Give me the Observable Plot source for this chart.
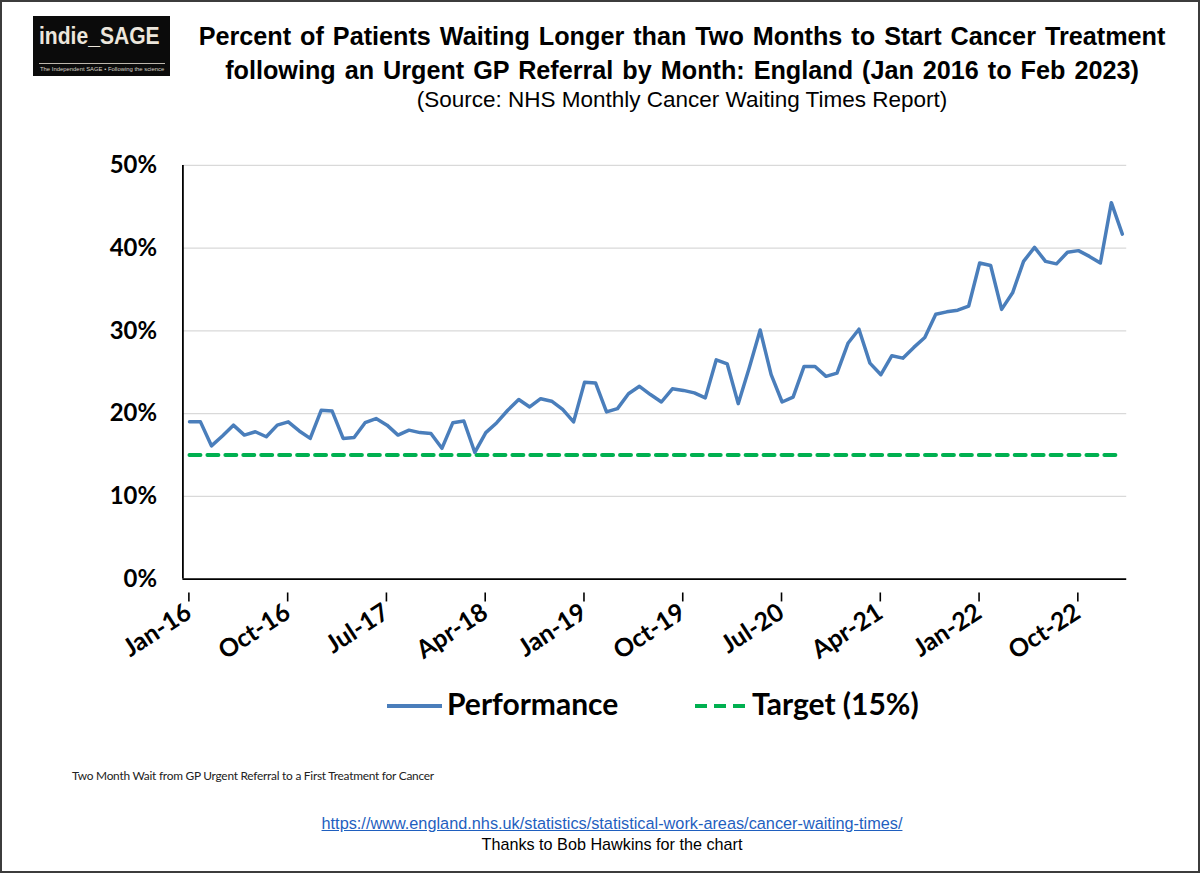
<!DOCTYPE html>
<html>
<head>
<meta charset="utf-8">
<script src="https://cdn.jsdelivr.net/npm/d3@7"></script>
<script src="https://cdn.jsdelivr.net/npm/@observablehq/plot@0.6"></script>
<style>
  html, body { margin: 0; padding: 0; background: #fff; }
  #wrap { position: relative; width: 1200px; height: 873px; box-sizing: border-box; border: 2px solid #3c3c3c; overflow: hidden; font-family: "Liberation Sans", Arial, sans-serif; }
  .abs { position: absolute; }
  #logo { left: 31px; top: 14px; width: 137px; height: 60px; background: #0b0b0b; }
  #logo .big { position: absolute; left: 6px; top: 6px; font-family: "Liberation Sans", Arial, sans-serif; font-weight: bold; font-size: 24.5px; color: #ece6dc; transform: scaleX(0.86); transform-origin: left top; white-space: nowrap; }
  #logo .rule { position: absolute; left: 6px; right: 5px; top: 47px; height: 1px; background: #bdb7ad; }
  #logo .small { position: absolute; left: 7px; top: 50px; font-size: 5.9px; color: #d9d3c9; white-space: nowrap; }
  .title { left: 0; width: 1360px; text-align: center; font-weight: bold; font-size: 25.2px; color: #000; white-space: nowrap; word-spacing: 2px; }
  .sub { left: 0; width: 1360px; text-align: center; font-size: 22.5px; color: #000; white-space: nowrap; }
  #chart { left: 0; top: 140px; }
  .leg { font-family: Lato, sans-serif; font-weight: bold; font-size: 30px; color: #000; white-space: nowrap; line-height: 36px; }
  .note { left: 70px; top: 766px; font-family: Lato, sans-serif; font-size: 11.9px; color: #222; white-space: nowrap; letter-spacing: -0.25px; }
  .url { left: 0; width: 1220px; text-align: center; top: 812px; font-size: 16.3px; color: #1f5fbf; text-decoration: underline; white-space: nowrap; }
  .thanks { left: 0; width: 1220px; text-align: center; top: 833px; font-size: 16.2px; color: #000; white-space: nowrap; }
</style>
</head>
<body>
<div id="wrap">
  <div id="logo" class="abs">
    <div class="big">indie_SAGE</div>
    <div class="rule"></div>
    <div class="small">The Independent SAGE • Following the science</div>
  </div>
  <div class="abs title" style="top:20px">Percent of Patients Waiting Longer than Two Months to Start Cancer Treatment</div>
  <div class="abs title" style="top:54px">following an Urgent GP Referral by Month: England (Jan 2016 to Feb 2023)</div>
  <div class="abs sub" style="top:85px">(Source: NHS Monthly Cancer Waiting Times Report)</div>
  <div id="chart" class="abs"></div>
  <div class="abs" style="left:385px; top:702px; width:55px; height:3.5px; background:#4a7ebb;"></div>
  <div class="abs leg" style="left:445px; top:683px;">Performance</div>
  <svg class="abs" style="left:692px; top:698px;" width="52" height="12"><line x1="1" y1="6" x2="51" y2="6" stroke="#00b050" stroke-width="4" stroke-dasharray="12,7"/></svg>
  <div class="abs leg" style="left:750px; top:683px;">Target (15%)</div>
  <div class="abs note">Two Month Wait from GP Urgent Referral to a First Treatment for Cancer</div>
  <div class="abs url">https://www.england.nhs.uk/statistics/statistical-work-areas/cancer-waiting-times/</div>
  <div class="abs thanks">Thanks to Bob Hawkins for the chart</div>
</div>
<script>
// Monthly performance, Jan 2016 .. Feb 2023 (percent waiting > 2 months)
const performance = [
  19.0, 19.0, 16.1, 17.3, 18.6, 17.4, 17.8, 17.2, 18.6, 19.0, 17.9, 17.0,
  20.4, 20.3, 17.0, 17.1, 18.9, 19.4, 18.6, 17.4, 18.0, 17.7, 17.6, 15.8,
  18.9, 19.1, 15.3, 17.7, 18.9, 20.4, 21.7, 20.8, 21.8, 21.5, 20.5, 19.0,
  23.8, 23.7, 20.2, 20.6, 22.4, 23.3, 22.3, 21.4, 23.0, 22.8, 22.5, 21.9,
  26.5, 26.0, 21.2, 25.5, 30.1, 24.7, 21.4, 22.0, 25.7, 25.7, 24.5, 24.9,
  28.5, 30.2, 26.1, 24.7, 27.0, 26.7, 28.0, 29.2, 32.0, 32.3, 32.5, 33.0,
  38.2, 37.9, 32.6, 34.6, 38.4, 40.1, 38.4, 38.1, 39.5, 39.7, 39.0, 38.2,
  45.5, 41.7
];
const targetValue = 15;
const tickLabels = ["Jan-16","Oct-16","Jul-17","Apr-18","Jan-19","Oct-19","Jul-20","Apr-21","Jan-22","Oct-22"];
const yTicks = [0, 10, 20, 30, 40, 50];
const tickStep = 9; // months between labelled ticks

const rows = performance.map((v, i) => ({i: i + 0.6, v, t: targetValue}));
const tickIdx = tickLabels.map((_, k) => k * tickStep);

const chart = Plot.plot({
  width: 1200,
  height: 540,
  marginLeft: 181,
  marginRight: 72,
  marginTop: 23,
  marginBottom: 102,
  x: {domain: [0, performance.length]},
  y: {domain: [0, 50]},
  style: {background: "transparent"},
  marks: [
    Plot.gridY(yTicks.slice(1), {stroke: "#d9d9d9", strokeOpacity: 1, strokeWidth: 1.3}),
    Plot.axisY(yTicks, {
      tickSize: 0, tickPadding: 26, tickFormat: d => d + "%",
      fontSize: 24, fontFamily: "Lato, sans-serif", fontWeight: "bold", fill: "#000", label: null
    }),
    Plot.axisX(tickIdx, {
      tickSize: 9, tickPadding: 8, tickRotate: -33, strokeWidth: 1.6, stroke: "#000",
      tickFormat: (d) => tickLabels[d / tickStep],
      fontSize: 25, fontFamily: "Lato, sans-serif", fontWeight: "bold", fill: "#000", label: null,
      dx: 6, dy: 14
    }),
    Plot.lineY(rows, {x: "i", y: "t", stroke: "#00b050", strokeWidth: 4, strokeDasharray: "11,7"}),
    Plot.lineY(rows, {x: "i", y: "v", stroke: "#4a7ebb", strokeWidth: 3.5, strokeLinejoin: "round"}),
    Plot.ruleX([0], {y1: 0, y2: 50, stroke: "#000", strokeWidth: 1.8}),
    Plot.ruleY([0], {stroke: "#000", strokeWidth: 1.8})
  ]
});
document.getElementById("chart").appendChild(chart);
</script>
</body>
</html>
